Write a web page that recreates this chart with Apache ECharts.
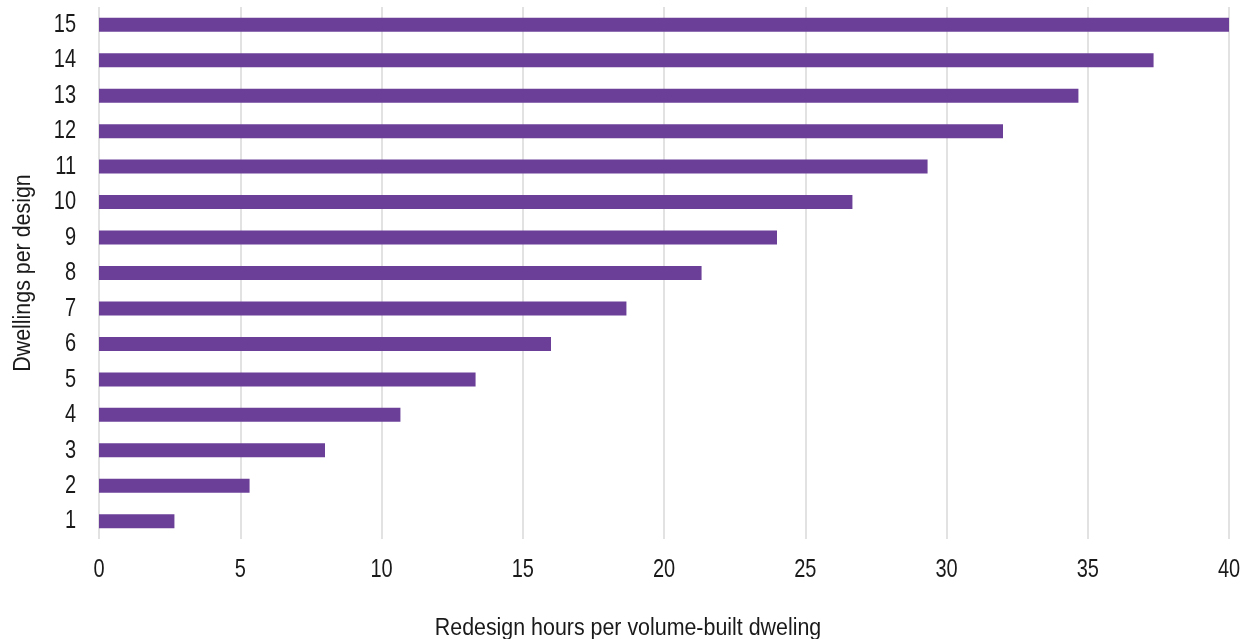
<!DOCTYPE html>
<html>
<head>
<meta charset="utf-8">
<script src="https://cdn.jsdelivr.net/npm/echarts@6/dist/echarts.min.js"></script>
<style>
  html, body { margin: 0; padding: 0; background: #ffffff; }
  #chart { width: 1242px; height: 639px; }
</style>
</head>
<body>
<div id="chart"></div>
<script>
// Dwellings sharing one design, bottom to top
const dwellings = ['1', '2', '3', '4', '5', '6', '7', '8', '9', '10', '11', '12', '13', '14', '15'];
// Redesign hours per volume-built dwelling
const redesignHours = [2.67, 5.33, 8, 10.67, 13.33, 16, 18.67, 21.33, 24, 26.67, 29.33, 32, 34.67, 37.33, 40];
// Hour ticks along the bottom axis
const hourTicks = [0, 5, 10, 15, 20, 25, 30, 35, 40];

const xTitle = 'Redesign hours per volume-built dweling';
const yTitle = 'Dwellings per design';

(function () {
  const FONT_FAMILY = '"Liberation Sans", Arial, sans-serif';
  const TEXT = '#1a1a1a';
  // The lettering is drawn tall and narrow, so each label is stretched vertically
  const TICK_FONT = '20px ' + FONT_FAMILY;
  const TICK_STRETCH = 1.3;
  const TITLE_FONT = '21.4px ' + FONT_FAMILY;
  const TITLE_STRETCH = 1.12;

  const chart = echarts.init(document.getElementById('chart'), null, { renderer: 'canvas' });
  chart.setOption({
    animation: false,
    backgroundColor: '#ffffff',
    grid: { left: 99, right: 13, top: 7, height: 532, containLabel: false, outerBoundsMode: 'none' },
    xAxis: {
      type: 'value',
      min: 0,
      max: 40,
      interval: 5,
      axisLine: { show: false },
      axisTick: { show: false },
      axisLabel: { show: false },
      splitLine: { show: true, lineStyle: { color: '#d9d9d9', width: 1.5 } }
    },
    yAxis: {
      type: 'category',
      data: dwellings,
      axisLine: { show: false },
      axisTick: { show: false },
      axisLabel: { show: false },
      splitLine: { show: false }
    },
    series: [{
      type: 'bar',
      data: redesignHours,
      barWidth: 14,
      itemStyle: { color: '#6b3f98' }
    }]
  });

  const xPx = function (v) { return chart.convertToPixel({ xAxisIndex: 0 }, v); };
  const yPx = function (c) { return chart.convertToPixel({ yAxisIndex: 0 }, c); };

  // Axis labels placed through the chart's own scales
  const labels = [];
  const xLabelY = yPx(dwellings[0]) + 49;
  hourTicks.forEach(function (v) {
    labels.push({
      type: 'text',
      x: xPx(v),
      y: xLabelY,
      scaleY: TICK_STRETCH,
      silent: true,
      style: { text: String(v), font: TICK_FONT, fill: TEXT, textAlign: 'center', textVerticalAlign: 'middle' }
    });
  });
  const yLabelX = xPx(0) - 23;
  dwellings.forEach(function (d) {
    labels.push({
      type: 'text',
      x: yLabelX,
      y: yPx(d),
      scaleY: TICK_STRETCH,
      silent: true,
      style: { text: d, font: TICK_FONT, fill: TEXT, textAlign: 'right', textVerticalAlign: 'middle' }
    });
  });

  // Axis titles
  const plotTop = yPx(dwellings[dwellings.length - 1]);
  const plotBottom = yPx(dwellings[0]);
  labels.push({
    type: 'text',
    x: 628,
    y: 628,
    scaleY: TITLE_STRETCH,
    silent: true,
    style: { text: xTitle, font: TITLE_FONT, fill: TEXT, textAlign: 'center', textVerticalAlign: 'middle' }
  });
  labels.push({
    type: 'text',
    x: 23,
    y: (plotTop + plotBottom) / 2,
    rotation: Math.PI / 2,
    scaleY: TITLE_STRETCH,
    silent: true,
    style: { text: yTitle, font: TITLE_FONT, fill: TEXT, textAlign: 'center', textVerticalAlign: 'middle' }
  });
  chart.setOption({ graphic: { elements: labels } });
})();
</script>
</body>
</html>
